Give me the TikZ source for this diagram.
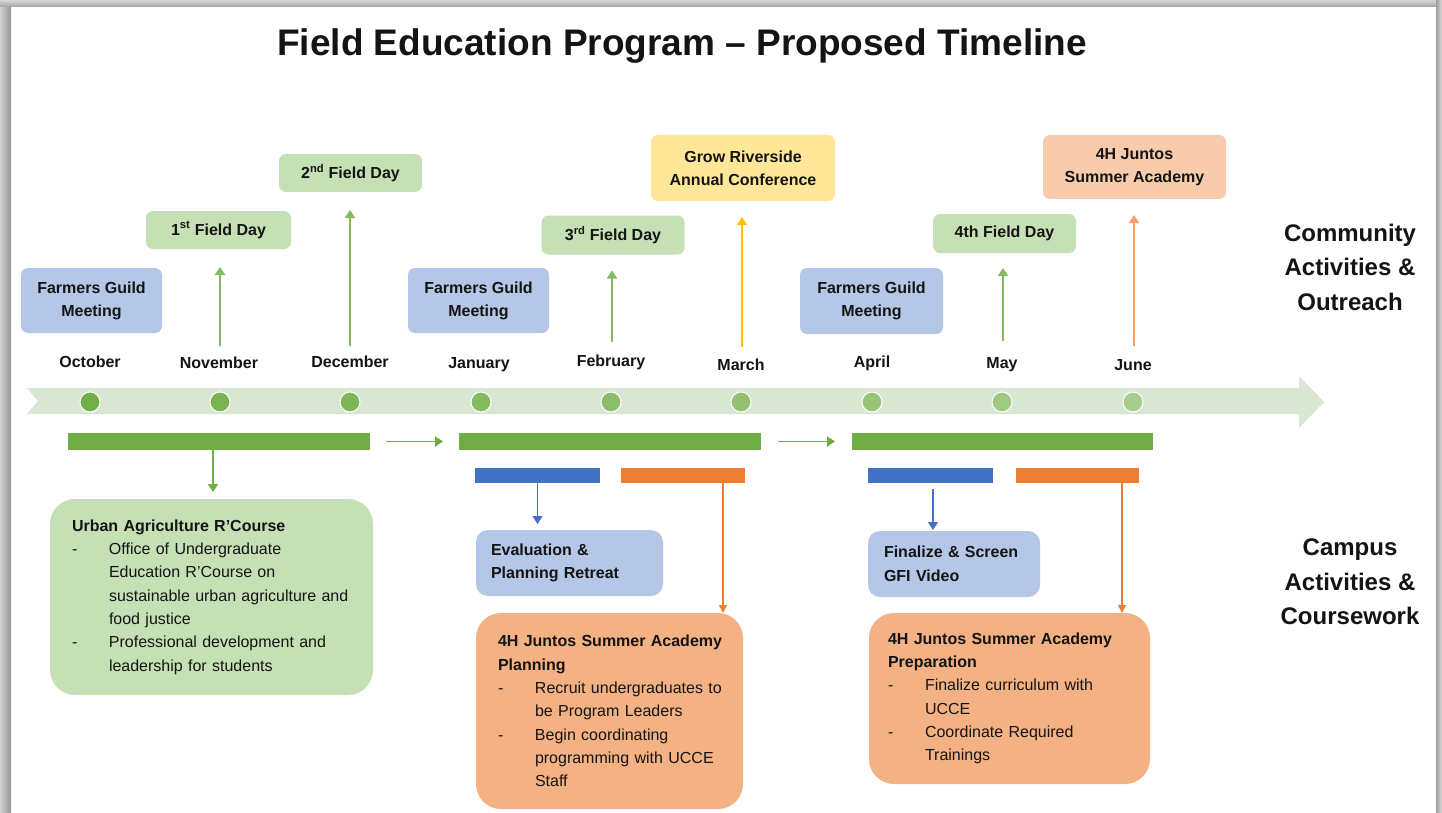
\documentclass[tikz,border=0pt]{standalone}
\usepackage{fontspec}
\setmainfont{Liberation Sans}
\usetikzlibrary{arrows.meta}
\definecolor{boxblue}{HTML}{B4C7E7}
\definecolor{boxgreen}{HTML}{C5E0B4}
\definecolor{boxyellow}{HTML}{FFE699}
\definecolor{boxpeach}{HTML}{F8CBAD}
\definecolor{boxorange}{HTML}{F4B183}
\definecolor{bargreen}{HTML}{70AD47}
\definecolor{barblue}{HTML}{4472C4}
\definecolor{barorange}{HTML}{ED7D31}
\definecolor{band}{HTML}{D8E7D1}
\definecolor{arryellow}{HTML}{FFC000}
\definecolor{arrpeach}{HTML}{F4A06A}
\definecolor{dotA}{HTML}{72AE48}
\definecolor{dotB}{HTML}{A6CD8C}
\definecolor{ink}{HTML}{141414}
\newcommand{\tlbul}{\makebox[37pt][l]{-}}
\newcommand{\tlind}{\hspace*{37pt}}
\begin{document}
\begin{tikzpicture}[x=1pt,y=-1pt,
  every node/.style={outer sep=0pt, text=ink},
  tbox/.style={rounded corners=7pt, inner sep=0pt, align=center,
    font=\fontsize{16}{23}\selectfont\bfseries},
  month/.style={inner sep=0pt, font=\fontsize{16}{19}\selectfont\bfseries},
  side/.style={inner sep=0pt, align=center, font=\fontsize{24}{34.5}\selectfont\bfseries},
  bbox/.style={inner ysep=0pt, inner xsep=8pt, align=left, font=\fontsize{16}{23.3}\selectfont},
  bar/.style={inner sep=0pt, minimum height=#1},
  arr/.style={-{Triangle[width=10pt,length=8pt]}, line width=1.8pt},
  thinarr/.style={-{Triangle[width=8pt,length=8pt]}, line width=1.3pt},
  dot/.style={circle, inner sep=0pt, minimum size=20pt, draw=white, line width=1pt}
]
\useasboundingbox (0,0) rectangle (1442,813);
\fill[white] (0,0) rectangle (1442,813);
% frame shadow
\shade[left color=black!18, right color=black!42] (0,0) rectangle (11,813);
\shade[top color=black!16, bottom color=black!36] (0,0) rectangle (1436,7);
\shade[left color=black!38, right color=black!14] (1436,0) rectangle (1442,813);

% title
\node[inner sep=0pt, anchor=base, font=\fontsize{37}{44}\selectfont\bfseries] (title) at (682,56)
  {Field Education Program – Proposed Timeline};

% timeline band
\fill[band] (27,388) -- (1299,388) -- (1299,376) -- (1324,402) -- (1299,428)
  -- (1299,414) -- (27,414) -- (38,401) -- cycle;

% dots
\foreach \i/\x in {0/90,1/220,2/350,3/481,4/611,5/741,6/872,7/1002,8/1133}{
  \pgfmathsetmacro{\p}{100-\i*12.5}
  \node[dot, fill=dotA!\p!dotB] (dot\i) at (\x,402) {};
}

% months
\node[month] (m-oct) at (90,362) {October};
\node[month] (m-nov) at (219,363) {November};
\node[month] (m-dec) at (350,362) {December};
\node[month] (m-jan) at (479,365) {January};
\node[month] (m-feb) at (611,362) {February};
\node[month] (m-mar) at (741,365) {March};
\node[month] (m-apr) at (872,363) {April};
\node[month] (m-may) at (1002,365) {May};
\node[month] (m-jun) at (1133,365) {June};

% community boxes
\node[tbox, fill=boxblue, minimum width=141pt, minimum height=65pt] (fg1) at (91.5,300.5) {Farmers Guild\\Meeting};
\node[tbox, fill=boxgreen, minimum width=145pt, minimum height=38pt] (fd1) at (218.5,230) {1\textsuperscript{st} Field Day};
\node[tbox, fill=boxgreen, minimum width=143pt, minimum height=38pt] (fd2) at (350.5,173) {2\textsuperscript{nd} Field Day};
\node[tbox, fill=boxblue, minimum width=141pt, minimum height=65pt] (fg2) at (478.5,300.5) {Farmers Guild\\Meeting};
\node[tbox, fill=boxgreen, minimum width=143pt, minimum height=39pt] (fd3) at (613,235) {3\textsuperscript{rd} Field Day};
\node[tbox, fill=boxyellow, minimum width=184pt, minimum height=66pt] (grow) at (743,168) {Grow Riverside\\Annual Conference};
\node[tbox, fill=boxblue, minimum width=143pt, minimum height=66pt] (fg3) at (871.5,301) {Farmers Guild\\Meeting};
\node[tbox, fill=boxgreen, minimum width=143pt, minimum height=39pt] (fd4) at (1004.5,233.5) {4th Field Day};
\node[tbox, fill=boxpeach, minimum width=183pt, minimum height=64pt] (sa) at (1134.5,167) {4H Juntos\\Summer Academy};

% up arrows
\coordinate (u-nov) at (220,346);
\coordinate (u-dec) at (350,346);
\coordinate (u-feb) at (612,342);
\coordinate (u-mar) at (742,347);
\coordinate (u-may) at (1003,341);
\coordinate (u-jun) at (1134,346);
\draw[arr, bargreen!85, shorten >=18pt] (u-nov) -- (u-nov |- fd1.south);
\draw[arr, bargreen!85, shorten >=18pt] (u-dec) -- (u-dec |- fd2.south);
\draw[arr, bargreen!85, shorten >=16pt] (u-feb) -- (u-feb |- fd3.south);
\draw[arr, arryellow, line width=1.4pt, shorten >=16pt] (u-mar) -- (u-mar |- grow.south);
\draw[arr, bargreen!85, shorten >=15pt] (u-may) -- (u-may |- fd4.south);
\draw[arr, arrpeach, line width=1.4pt, shorten >=16pt] (u-jun) -- (u-jun |- sa.south);

% side labels
\node[side] (comm) at (1350,267) {Community\\Activities \&\\Outreach};
\node[side] (camp) at (1350,582) {Campus\\Activities \&\\Coursework};

% bars
\node[bar=17pt, fill=bargreen, minimum width=302pt] (bar1) at (219,441.5) {};
\node[bar=17pt, fill=bargreen, minimum width=302pt] (bar2) at (610,441.5) {};
\node[bar=17pt, fill=bargreen, minimum width=301pt] (bar3) at (1002.5,441.5) {};
\node[bar=15pt, fill=barblue, minimum width=125pt] (bb1) at (537.5,475.5) {};
\node[bar=15pt, fill=barorange, minimum width=124pt] (ob1) at (683,475.5) {};
\node[bar=15pt, fill=barblue, minimum width=125pt] (bb2) at (930.5,475.5) {};
\node[bar=15pt, fill=barorange, minimum width=123pt] (ob2) at (1077.5,475.5) {};

\draw[arr, bargreen, shorten <=16pt, shorten >=16pt] (bar1.east) -- (bar2.west);
\draw[arr, bargreen, shorten <=17pt, shorten >=17pt] (bar2.east) -- (bar3.west);

% campus boxes
\node[bbox, fill=boxgreen, rounded corners=25pt, text width=307pt,
  minimum height=196pt] (urban) at (211.5,597)
  {\leftskip=14pt\textbf{Urban Agriculture R’Course}\\
   \tlbul Office of Undergraduate\\
   \tlind Education R’Course on\\
   \tlind sustainable urban agriculture and\\
   \tlind food justice\\
   \tlbul Professional development and\\
   \tlind leadership for students\par};
\node[bbox, fill=boxblue, rounded corners=12pt, text width=171pt,
  minimum height=66pt, font=\fontsize{16}{23.5}\selectfont\bfseries] (eval) at (569.5,563)
  {\leftskip=7pt Evaluation \&\\Planning Retreat\par};
\node[bbox, fill=boxorange, rounded corners=25pt, text width=251pt,
  minimum height=196pt] (plan) at (609.5,711)
  {\leftskip=14pt\textbf{4H Juntos Summer Academy}\\
   \textbf{Planning}\\
   \tlbul Recruit undergraduates to\\
   \tlind be Program Leaders\\
   \tlbul Begin coordinating\\
   \tlind programming with UCCE\\
   \tlind Staff\par};
\node[bbox, fill=boxblue, rounded corners=12pt, text width=156pt,
  minimum height=66pt, font=\fontsize{16}{23.5}\selectfont\bfseries] (fin) at (954,564)
  {\leftskip=8pt Finalize \& Screen\\GFI Video\par};
\node[bbox, fill=boxorange, rounded corners=25pt, text width=265pt,
  minimum height=171pt] (prep) at (1009.5,698.5)
  {\leftskip=11pt\textbf{4H Juntos Summer Academy}\\
   \textbf{Preparation}\\
   \tlbul Finalize curriculum with\\
   \tlind UCCE\\
   \tlbul Coordinate Required\\
   \tlind Trainings\par};

% down arrows
\draw[arr, bargreen, shorten >=7pt] ([xshift=-6pt]bar1.south) -- ([xshift=-6pt]bar1.south |- urban.north);
\draw[arr, barblue, line width=1.6pt, shorten >=6pt] (bb1.south) -- (bb1.south |- eval.north);
\draw[thinarr, barorange] ([xshift=40pt]ob1.south) -- ([xshift=40pt]ob1.south |- plan.north);
\draw[arr, barblue, line width=1.6pt, shorten <=6pt, shorten >=1pt] ([xshift=2.5pt]bb2.south) -- ([xshift=2.5pt]bb2.south |- fin.north);
\draw[thinarr, barorange] ([xshift=44.5pt]ob2.south) -- ([xshift=44.5pt]ob2.south |- prep.north);
\end{tikzpicture}
\end{document}
